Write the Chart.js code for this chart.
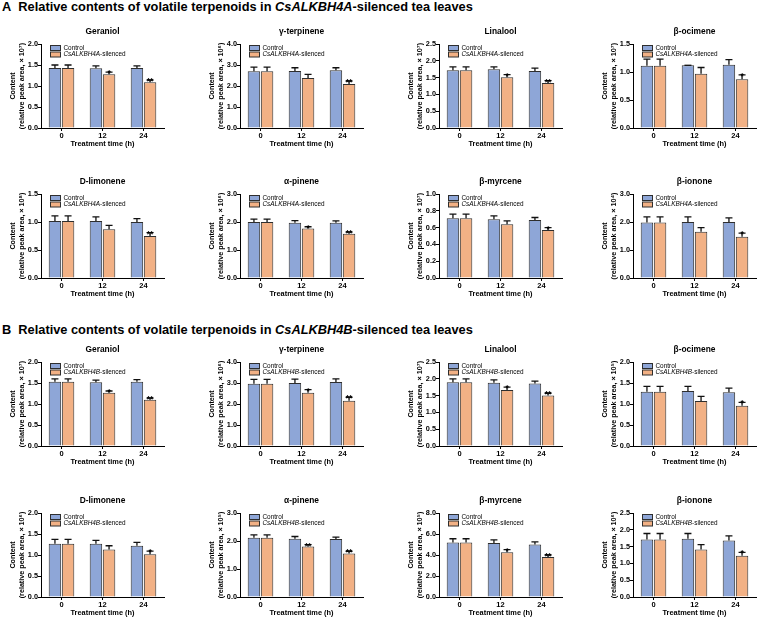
<!DOCTYPE html>
<html>
<head>
<meta charset="utf-8">
<script src="https://cdn.jsdelivr.net/npm/chart.js@4.4.0/dist/chart.umd.min.js"></script>
<style>
  body { margin: 0; background: #fff; }
  #fig { position: relative; width: 765px; height: 617px; overflow: hidden; font-family: "Liberation Sans", Arial, sans-serif; }
  .head { position: absolute; left: 2px; font-weight: bold; font-size: 12.8px; white-space: nowrap; color: #000; }
  .panel { position: absolute; }
</style>
</head>
<body>
<div id="fig">
  <div class="head" style="top:-1px">A&nbsp;&nbsp;Relative contents of volatile terpenoids in <i>CsALKBH4A</i>-silenced tea leaves</div>
  <div class="head" style="top:322px">B&nbsp;&nbsp;Relative contents of volatile terpenoids in <i>CsALKBH4B</i>-silenced tea leaves</div>
</div>
<script>
const timeLabels = ['0', '12', '24'];
const compoundNames = ['Geraniol', 'γ-terpinene', 'Linalool', 'β-ocimene', 'D-limonene', 'α-pinene', 'β-myrcene', 'β-ionone'];
const geneNames = ['CsALKBH4A', 'CsALKBH4B'];

// panel A: CsALKBH4A-silenced
const controlA    = [[1.43, 1.42, 1.43], [2.70, 2.72, 2.75], [1.72, 1.75, 1.70], [1.11, 1.12, 1.13],
                     [1.02, 1.02, 1.00], [2.00, 1.97, 1.97], [0.71, 0.70, 0.69], [1.98, 2.00, 2.00]];
const controlErrA = [[0.07, 0.06, 0.05], [0.20, 0.15, 0.12], [0.10, 0.07, 0.08], [0.12, 0.00, 0.09],
                     [0.09, 0.07, 0.06], [0.10, 0.08, 0.07], [0.05, 0.04, 0.03], [0.20, 0.18, 0.15]];
const silencedA    = [[1.43, 1.28, 1.09], [2.70, 2.38, 2.10], [1.72, 1.51, 1.34], [1.11, 0.97, 0.87],
                      [1.02, 0.87, 0.75], [2.00, 1.77, 1.58], [0.71, 0.64, 0.57], [1.98, 1.65, 1.47]];
const silencedErrA = [[0.07, 0.05, 0.05], [0.20, 0.17, 0.13], [0.10, 0.08, 0.07], [0.12, 0.11, 0.08],
                      [0.09, 0.07, 0.06], [0.10, 0.06, 0.06], [0.05, 0.04, 0.03], [0.20, 0.15, 0.13]];
const starsA = [['', '*', '**'], ['', '', '**'], ['', '*', '**'], ['', '', '*'],
                ['', '', '**'], ['', '*', '**'], ['', '', '*'], ['', '', '*']];
const yMaxA  = [2.0, 4.0, 2.5, 1.5, 1.5, 3.0, 1.0, 3.0];
const yStepA = [0.5, 1.0, 0.5, 0.5, 0.5, 1.0, 0.2, 1.0];
const expA   = ['⁷', '⁶', '⁷', '⁷', '⁸', '⁶', '⁷', '⁴'];

// panel B: CsALKBH4B-silenced
const controlB    = [[1.53, 1.52, 1.53], [2.97, 3.00, 3.05], [1.90, 1.88, 1.86], [1.29, 1.31, 1.28],
                     [1.27, 1.27, 1.22], [2.12, 2.08, 2.07], [5.20, 5.15, 5.00], [1.71, 1.73, 1.68]];
const controlErrB = [[0.07, 0.05, 0.05], [0.20, 0.18, 0.15], [0.10, 0.09, 0.07], [0.13, 0.11, 0.10],
                     [0.10, 0.08, 0.08], [0.10, 0.08, 0.07], [0.35, 0.30, 0.25], [0.18, 0.16, 0.14]];
const silencedB    = [[1.53, 1.27, 1.10], [2.97, 2.53, 2.15], [1.90, 1.67, 1.50], [1.29, 1.07, 0.96],
                      [1.27, 1.13, 1.02], [2.12, 1.80, 1.55], [5.20, 4.27, 3.80], [1.71, 1.41, 1.23]];
const silencedErrB = [[0.07, 0.04, 0.04], [0.20, 0.15, 0.17], [0.10, 0.08, 0.07], [0.13, 0.11, 0.08],
                      [0.10, 0.09, 0.07], [0.10, 0.07, 0.08], [0.35, 0.25, 0.20], [0.18, 0.15, 0.10]];
const starsB = [['', '*', '**'], ['', '*', '**'], ['', '*', '**'], ['', '', '*'],
                ['', '', '*'], ['', '**', '**'], ['', '*', '**'], ['', '', '*']];
const yMaxB  = [2.0, 4.0, 2.5, 2.0, 2.0, 3.0, 8.0, 2.5];
const yStepB = [0.5, 1.0, 0.5, 0.5, 0.5, 1.0, 2.0, 0.5];
const expB   = ['⁷', '⁶', '⁷', '⁵', '⁶', '⁵', '⁵', '⁶'];

const colAxisX = [41, 240, 439, 633];
const rowPlotTop = [44, 194, 362, 513];
const plotW = 123, plotH = 84, axisW = 36, padTop = 20, axisH = 20;

const blue = '#8ea6d7';
const orange = '#f2b185';
const edge = '#2e2e2e';
const FONT = '"Liberation Sans", Arial, sans-serif';

Chart.defaults.font.family = FONT;
Chart.defaults.color = '#000';

// error bars, stars, title and legend drawn on top of the bars
const extrasPlugin = {
  id: 'extras',
  afterDatasetsDraw(chart) {
    const c = chart.ctx;
    const o = chart.options.plugins.extras;
    const yScale = chart.scales.y;
    const area = chart.chartArea;
    c.save();
    chart.data.datasets.forEach((ds, i) => {
      chart.getDatasetMeta(i).data.forEach((bar, j) => {
        const top = yScale.getPixelForValue(ds.data[j] + ds.errs[j]);
        c.strokeStyle = '#111';
        c.lineWidth = 1.3;
        c.beginPath();
        c.moveTo(bar.x, bar.y);
        c.lineTo(bar.x, top);
        c.moveTo(bar.x - 3.5, top);
        c.lineTo(bar.x + 3.5, top);
        c.stroke();
        if (ds.stars && ds.stars[j]) {
          c.fillStyle = '#000';
          c.font = 'bold 8.5px ' + FONT;
          c.textAlign = 'center';
          c.textBaseline = 'alphabetic';
          c.fillText(ds.stars[j], bar.x, top + 4);
        }
      });
    });

    // panel title
    c.fillStyle = '#000';
    c.font = 'bold 8.4px ' + FONT;
    c.textAlign = 'center';
    c.textBaseline = 'middle';
    c.fillText(o.title, (area.left + area.right) / 2, area.top - 12);

    // legend
    const lx = area.left + 9;
    const rows = [area.top + 4, area.top + 10.5];
    c.lineWidth = 1;
    c.strokeStyle = edge;
    c.textAlign = 'left';
    c.textBaseline = 'middle';
    chart.data.datasets.forEach((ds, i) => {
      const y = rows[i];
      c.fillStyle = ds.backgroundColor;
      c.fillRect(lx, y - 2.5, 10, 5);
      c.strokeRect(lx + 0.5, y - 2.5, 10, 5);
      c.fillStyle = '#000';
      let tx = lx + 13.5;
      if (i === 0) {
        c.font = '6.4px ' + FONT;
        c.fillText('Control', tx, y);
      } else {
        c.font = 'italic 6.4px ' + FONT;
        c.fillText(o.gene, tx, y);
        tx += c.measureText(o.gene).width;
        c.font = '6.4px ' + FONT;
        c.fillText('-silenced', tx, y);
      }
    });
    c.restore();
  }
};

function makePanel(left, top, name, gene, ctrl, ctrlErr, sil, silErr, stars, yMax, yStep, exp) {
  const fig = document.getElementById('fig');
  const box = document.createElement('div');
  box.className = 'panel';
  const w = axisW + plotW + 4;
  const h = padTop + plotH + axisH + 2;
  box.style.left = left + 'px';
  box.style.top = top + 'px';
  box.style.width = w + 'px';
  box.style.height = h + 'px';
  const cv = document.createElement('canvas');
  box.appendChild(cv);
  fig.appendChild(box);

  new Chart(cv, {
    type: 'bar',
    data: {
      labels: timeLabels,
      datasets: [
        { label: 'Control', data: ctrl, errs: ctrlErr, backgroundColor: blue, borderColor: edge, borderWidth: 1 },
        { label: gene + '-silenced', data: sil, errs: silErr, stars: stars, backgroundColor: orange, borderColor: edge, borderWidth: 1 }
      ]
    },
    options: {
      responsive: true,
      maintainAspectRatio: false,
      animation: false,
      categoryPercentage: 0.64,
      barPercentage: 0.95,
      layout: { padding: { top: padTop, right: 4, bottom: 2, left: 0 } },
      plugins: {
        legend: { display: false },
        tooltip: { enabled: false },
        extras: { title: name, gene: gene }
      },
      scales: {
        x: {
          ticks: { font: { size: 7.5, weight: 'bold' }, color: '#000', padding: 0 },
          grid: { offset: false, drawOnChartArea: false, tickLength: 3, color: '#000' },
          border: { color: '#000', width: 1 },
          title: { display: true, text: 'Treatment time (h)', font: { size: 7.4, weight: 'bold' }, color: '#000', padding: 0 },
          afterFit: (s) => { s.height = axisH; }
        },
        y: {
          min: 0,
          max: yMax,
          ticks: { stepSize: yStep, callback: (v) => v.toFixed(1), font: { size: 7.3, weight: 'bold' }, color: '#000', padding: 0 },
          grid: { drawOnChartArea: false, tickLength: 3, color: '#000' },
          border: { color: '#000', width: 1 },
          title: {
            display: true,
            text: ['Content', '(relative peak area, × 10' + exp + ')'],
            font: { size: 7.2, weight: 'bold', lineHeight: 1.25 },
            color: '#000',
            padding: { top: 4, bottom: 0 }
          },
          afterFit: (s) => { s.width = axisW; }
        }
      }
    },
    plugins: [extrasPlugin]
  });
}

const groups = [
  [controlA, controlErrA, silencedA, silencedErrA, starsA, yMaxA, yStepA, expA],
  [controlB, controlErrB, silencedB, silencedErrB, starsB, yMaxB, yStepB, expB]
];

groups.forEach((g, gi) => {
  const [ctrl, ctrlErr, sil, silErr, stars, yMax, yStep, exp] = g;
  for (let k = 0; k < 8; k++) {
    const row = gi * 2 + Math.floor(k / 4);
    const col = k % 4;
    makePanel(colAxisX[col] - axisW, rowPlotTop[row] - padTop,
      compoundNames[k], geneNames[gi],
      ctrl[k], ctrlErr[k], sil[k], silErr[k], stars[k], yMax[k], yStep[k], exp[k]);
  }
});
</script>
</body>
</html>
